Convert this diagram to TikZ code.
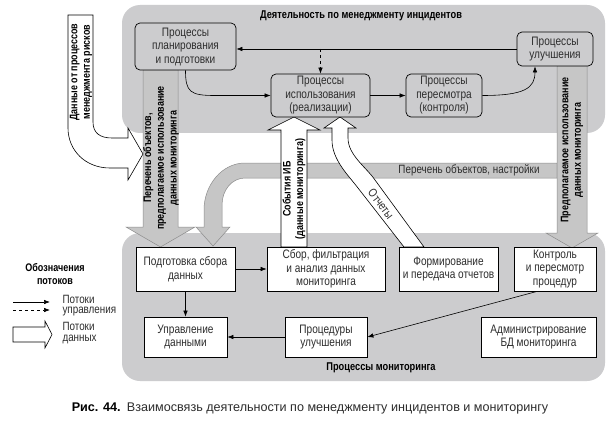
\documentclass[tikz,border=0pt]{standalone}
\usepackage{fontspec}
\setmainfont{Liberation Sans}[FakeStretch=0.82]
\newfontfamily\capfont{Liberation Sans}
\usetikzlibrary{arrows.meta,calc}
\definecolor{reg}{RGB}{204,204,206}
\definecolor{band}{RGB}{198,198,198}
\definecolor{bandedge}{RGB}{140,140,140}
\definecolor{txt}{RGB}{45,45,45}
\begin{document}
\begin{tikzpicture}[x=1pt,y=-1pt,
  boxfont/.style={font=\fontsize{12.3}{13.5}\selectfont},
  tbox/.style={draw=black, line width=0.7pt, fill=reg, rounded corners=5pt, align=center, inner sep=1pt, boxfont, text=txt},
  bbox/.style={draw=black, line width=0.8pt, fill=white, align=center, inner sep=1pt, boxfont, text=txt},
  ctl/.style={line width=0.6pt, -{Latex[length=6pt,width=4.5pt]}},
  gband/.style={fill=band, draw=bandedge, line width=0.5pt},
  wband/.style={fill=white, draw=black, line width=0.6pt},
  blab/.style={font=\bfseries\fontsize{10.9}{12.7}\selectfont, align=center},
  rlab/.style={font=\fontsize{12}{12}\selectfont, text=txt, align=left},
  title/.style={font=\bfseries\fontsize{11.3}{13}\selectfont}]
\useasboundingbox (0,0) rectangle (610,425);
\fill[white] (0,0) rectangle (610,425);
% regions
\fill[reg, rounded corners=18pt] (122,5) rectangle (605,133);
\fill[reg, rounded corners=18pt] (122,233) rectangle (605,381);
% gray data bands
\draw[gband] (557,163) -- (245,163) .. controls (222,163) and (204,185) .. (204,210) -- (204,227) -- (196,227) -- (213,246) -- (230,227) -- (222,227) -- (222,205) .. controls (222,190) and (232,178) .. (245,178) -- (557,178) -- cycle;
\draw[gband] (143,70) -- (178,70) -- (178,227) -- (195,227) -- (160.5,247) -- (126,227) -- (143,227) -- cycle;
\draw[gband] (557,66) -- (587,66) -- (587,233) -- (598,233) -- (572,248) -- (546,233) -- (557,233) -- cycle;
% white data arrows
\draw[wband] (68,15) -- (93,15) -- (93,122) .. controls (93,133) and (100,138) .. (112,138) -- (128,138) -- (128,128) -- (143,154) -- (128,180) -- (128,168) -- (110,168) .. controls (85,168) and (68,150) .. (68,128) -- cycle;
\draw[wband] (281,247) -- (281,130) -- (268,130) -- (294,117) -- (320,130) -- (307,130) -- (307,247) -- cycle;
\draw[wband] (404,247) -- (358,188) .. controls (349,176) and (332,160) .. (332,140) -- (332,128) -- (324,128) -- (340,117) -- (356,128) -- (348,128) -- (348,138) .. controls (348,155) and (366,167) .. (375,180) -- (424,247) -- cycle;
% top boxes
\node[tbox, minimum width=101pt, minimum height=47pt] (plan) at (185.5,46.5) {Процессы\\планирования\\и подготовки};
\node[tbox, minimum width=99pt, minimum height=43pt] (use) at (320.5,95.5) {Процессы\\использования\\(реализации)};
\node[tbox, minimum width=76pt, minimum height=43pt] (rev) at (444,95.5) {Процессы\\пересмотра\\(контроля)};
\node[tbox, minimum width=76pt, minimum height=34pt] (imp) at (555,49) {Процессы\\улучшения};
% bottom boxes
\node[bbox, minimum width=99pt, minimum height=44pt] (prep) at (185.5,269) {Подготовка сбора\\данных};
\node[bbox, minimum width=118pt, minimum height=44pt] (coll) at (326,269) {Сбор, фильтрация\\и анализ данных\\мониторинга};
\node[bbox, minimum width=99pt, minimum height=44pt] (rep) at (448.5,269) {Формирование\\и передача отчетов};
\node[bbox, minimum width=82pt, minimum height=44pt] (ctrl) at (555,269) {Контроль\\и пересмотр\\процедур};
\node[bbox, minimum width=83pt, minimum height=40pt] (dm) at (185.5,337) {Управление\\данными};
\node[bbox, minimum width=82pt, minimum height=40pt] (proc) at (326,337) {Процедуры\\улучшения};
\node[bbox, minimum width=115pt, minimum height=40pt] (adm) at (538.5,337) {Администрирование\\БД мониторинга};
% control arrows
\draw[ctl] (imp.west) -- (plan.east |- imp.west);
\draw[ctl, dashed] (use.north |- imp.west) -- (use.north);
\draw[ctl] (plan.south) .. controls (185.5,92) and (190,95.5) .. (215,95.5) -- (use.west);
\draw[ctl] (use.east) -- (rev.west);
\draw[ctl] (rev.east) .. controls (525,95.5) and (535,88) .. ($(imp.south)+(-20,0)$);
\draw[ctl] (prep.east) -- (coll.west);
\draw[ctl] (prep.south) -- (dm.north);
\draw[ctl] (proc.west) -- (dm.east);
\draw[ctl] ($(ctrl.south)+(-18,0)$) -- (proc.east);
% labels
\node[blab, rotate=90] (lrisk) at (81,72) {Данные от процессов\\менеджмента рисков};
\node[blab, rotate=90] (llist) at (161,158) {Перечень объектов,\\предполагаемое использование\\данных мониторинга};
\node[blab, rotate=90] (lev) at (294,189) {События ИБ\\(данные мониторинга)};
\node[blab, rotate=90] (lplan) at (572,150) {Предполагаемое использование\\данных мониторинга};
\node[rlab] (lset) at (469,170) {Перечень объектов, настройки};
\node[rlab, rotate=-53, inner sep=0pt] (lrep) at (381,204) {Отчеты};
\node[title] (t1) at (361,16) {Деятельность по менеджменту инцидентов};
\node[title] (t2) at (381,368) {Процессы мониторинга};
% legend
\node[align=center, font=\bfseries\fontsize{11}{13}\selectfont] (leg) at (55,274.5) {Обозначения\\потоков};
\coordinate (a1) at (13,302);
\coordinate (a2) at (50,302);
\coordinate (b1) at (13,310);
\coordinate (b2) at (50,310);
\draw[ctl] (a1) -- (a2);
\draw[ctl, dashed] (b1) -- (b2);
\node[rlab, anchor=west, font=\fontsize{12}{10.5}\selectfont] (lc) at (59,305.5) {Потоки\\управления};
\draw[wband] (13,327) -- (45,327) -- (45,321) -- (52,334.5) -- (45,348) -- (45,342) -- (13,342) -- cycle;
\node[rlab, anchor=west, font=\fontsize{12}{10.5}\selectfont] (ld) at (59,333) {Потоки\\данных};
% caption
\node[font=\capfont\fontsize{12.6}{15}\selectfont, text=txt] (cap) at (310,408) {\textbf{\color{black}Рис. 44.}\enspace Взаимосвязь деятельности по менеджменту инцидентов и мониторингу};
\end{tikzpicture}
\end{document}
